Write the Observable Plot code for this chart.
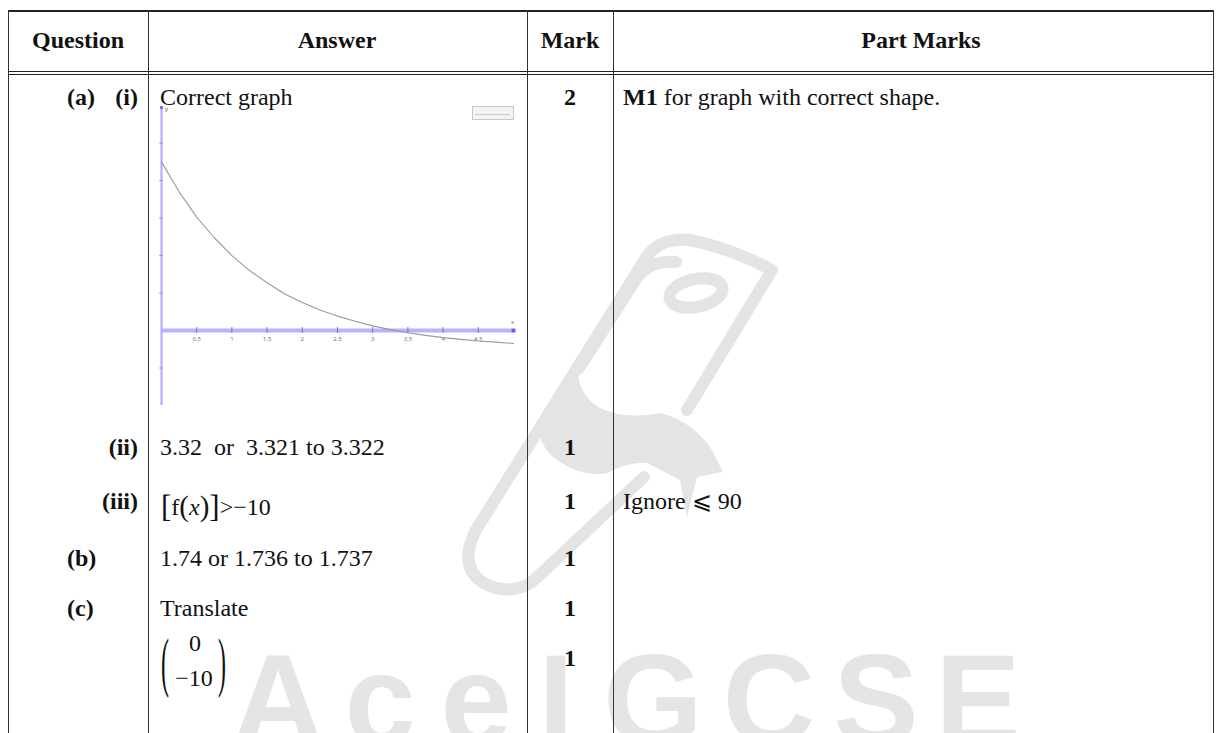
<!DOCTYPE html>
<html>
<head>
<meta charset="utf-8">
<script src="https://cdn.jsdelivr.net/npm/d3@7"></script>
<script src="https://cdn.jsdelivr.net/npm/@observablehq/plot@0.6"></script>
<style>
  html, body { margin:0; padding:0; background:#fff; }
  #page { position:relative; width:1219px; height:733px; overflow:hidden; font-family:"Liberation Serif","Times New Roman",serif; color:#111; }
  .t { position:absolute; font-size:24px; white-space:pre; line-height:1; }
  .b { font-weight:bold; }
  .c { transform:translateX(-50%); }
  .r { transform:translateX(-100%); }
  .hl { position:absolute; background:#222; height:1px; }
  .vl { position:absolute; background:#333; width:1px; }
  #wm { position:absolute; left:0; top:0; }
  #chart { position:absolute; left:150px; top:100px; }
</style>
</head>
<body>
<div id="page">
  <svg id="wm" width="1219" height="733">
    <g fill="none" stroke="#e4e4e4" stroke-width="12" stroke-linejoin="round" stroke-linecap="round">
      <path d="M476,530 L647,256 Q662,237 690,240 Q730,248 772,270 L687,410"/>
      <path d="M476,530 Q458,565 482,582 Q508,597 532,582 L576,541 L644,477"/>
      <path d="M579,368 L638,276 Q652,260 676,262"/>
      <ellipse cx="696" cy="293" rx="27" ry="14" transform="rotate(-12 696 293)"/>
    </g>
    <path fill="#e4e4e4" d="M577,367 Q578,395 600,408 Q625,420 660,413 Q690,420 710,447 L723,472 L697,477 L687,517 L680,480 L647,463 Q630,461 607,473 Q580,478 553,457 Q540,445 540,432 Z"/>
    <g fill="#e5e5e5" font-family="Liberation Sans, Arial, sans-serif" font-weight="bold" font-size="128" text-anchor="middle">
      <text x="278" y="744">A</text>
      <text x="380" y="744">c</text>
      <text x="476" y="744">e</text>
      <text x="556" y="744">I</text>
      <text x="653" y="744">G</text>
      <text x="769" y="744">C</text>
      <text x="876" y="744">S</text>
      <text x="978" y="744">E</text>
    </g>
  </svg>

  <!-- table lines -->
  <div class="hl" style="left:8px; top:10px; width:1206px; height:2px;"></div>
  <div class="hl" style="left:8px; top:71px; width:1206px;"></div>
  <div class="hl" style="left:8px; top:74px; width:1206px;"></div>
  <div class="vl" style="left:8px; top:10px; height:723px;"></div>
  <div class="vl" style="left:148px; top:10px; height:723px;"></div>
  <div class="vl" style="left:527px; top:10px; height:723px;"></div>
  <div class="vl" style="left:613px; top:10px; height:723px;"></div>
  <div class="vl" style="left:1213px; top:10px; height:723px;"></div>

  <div id="texts"></div>
  <div id="chart"></div>
  <div style="position:absolute; left:472px; top:106px; width:40px; height:12px; border:1px solid #c8c8c8; background:#f4f4f4;">
    <div style="position:absolute; left:2px; top:7px; width:35px; height:1px; background:#c8c8c8;"></div>
  </div>
</div>

<script>
// ---- table content ----
const headers = ["Question", "Answer", "Mark", "Part Marks"];
const questionLabels = ["(a)", "(i)", "(ii)", "(iii)", "(b)", "(c)"];
const answers = ["Correct graph", "3.32  or  3.321 to 3.322", "1.74 or 1.736 to 1.737", "Translate"];
const marks = ["2", "1", "1", "1", "1", "1"];
const partMarks = ["for graph with correct shape.", "Ignore \u2A7D 90"];

// ---- graph data ----
const curveX = [0, 0.25, 0.5, 0.75, 1, 1.25, 1.5, 1.75, 2, 2.25, 2.5, 2.75, 3, 3.25, 3.5, 3.75, 4, 4.25, 4.5, 4.75, 5];
const curveY = [90, 74, 60.5, 49.5, 40, 32, 25.5, 19.5, 15, 11, 7.7, 5, 2.5, 0.5, -1.2, -2.6, -3.8, -4.7, -5.6, -6.2, -6.9];
const xTicks = [0.5, 1, 1.5, 2, 2.5, 3, 3.5, 4, 4.5];
const xTickLabels = ["0.5", "1", "1.5", "2", "2.5", "3", "3.5", "4", "4.5"];
const yTicks = [-20, 20, 40, 60, 80, 100];

const T = document.getElementById("texts");
function put(html, x, y, cls) {
  const s = document.createElement("span");
  s.className = "t " + (cls || "");
  s.style.left = x + "px";
  s.style.top = (y - 12) + "px";
  s.innerHTML = html;
  T.appendChild(s);
  return s;
}
// header
put(headers[0], 78, 40, "b c");
put(headers[1], 337, 40, "b c");
put(headers[2], 570, 40, "b c");
put(headers[3], 921, 40, "b c");
// question labels
put(questionLabels[0], 67, 97, "b");
put(questionLabels[1], 138, 97, "b r");
put(questionLabels[2], 138, 447, "b r");
put(questionLabels[3], 138, 501, "b r");
put(questionLabels[4], 67, 558, "b");
put(questionLabels[5], 67, 608, "b");
// answers
put(answers[0], 160, 97);
put(answers[1], 160, 447);
put('<span style="font-size:31px;position:relative;top:2px">[</span>f<span style="font-size:29px;position:relative;top:1px">(</span><i>x</i><span style="font-size:29px;position:relative;top:1px">)</span><span style="font-size:31px;position:relative;top:2px">]</span>&gt;\u221210', 161, 501);
put(answers[2], 160, 558);
put(answers[3], 160, 608);
// matrix
put('<span style="display:inline-block;transform:scale(1,2.7);">(</span>', 161, 662);
put('<span style="display:inline-block;transform:scale(1,2.7);">)</span>', 218, 662);
put("0", 195, 643, "c");
put("\u221210", 194, 678, "c");
// marks
put(marks[0], 570, 97, "b c");
put(marks[1], 570, 447, "b c");
put(marks[2], 570, 501, "b c");
put(marks[3], 570, 558, "b c");
put(marks[4], 570, 608, "b c");
put(marks[5], 570, 658, "b c");
// part marks
put('<b>M1</b> ' + partMarks[0], 623, 97);
put(partMarks[1], 623, 501);

// ---- the small graph ----
const pts = curveX.map((x, i) => ({x, y: curveY[i]}));
const chart = Plot.plot({
  width: 370,
  height: 310,
  marginLeft: 11,
  marginRight: 7,
  marginTop: 7,
  marginBottom: 5,
  x: {domain: [0, 5], axis: null},
  y: {domain: [-40, 119], axis: null},
  style: {background: "transparent", overflow: "visible"},
  marks: [
    Plot.ruleY([0], {stroke: "#b4b4ff", strokeWidth: 4}),
    Plot.ruleX([0], {y1: -40, y2: 119, stroke: "#aaaaff", strokeWidth: 2}),
    Plot.ruleX(xTicks, {y1: -1.6, y2: 1.6, stroke: "#6f6fe8", strokeWidth: 1}),
    Plot.ruleY(yTicks, {x1: -0.025, x2: 0.025, stroke: "#8f8fff", strokeWidth: 1}),
    Plot.text(xTicks, {x: d => d, y: 0, dy: 9, text: (d, i) => xTickLabels[i], fontSize: 6, fill: "#777"}),
    Plot.line(pts, {x: "x", y: "y", stroke: "#9a9a9a", strokeWidth: 1.1}),
    Plot.dot([{x: 5, y: 0}], {x: "x", y: "y", symbol: "square", r: 2.2, fill: "#5a5aff", stroke: "none"}),
    Plot.dot([{x: 0, y: 119}], {x: "x", y: "y", symbol: "square", r: 1.5, fill: "#5a5aff", stroke: "none"}),
    Plot.text([{x: 0, y: 119, t: "y"}], {x: "x", y: "y", text: "t", dx: 5, dy: 2, fontSize: 6, fill: "#666"}),
    Plot.text([{x: 5, y: 0, t: "x"}], {x: "x", y: "y", text: "t", dx: -1, dy: -8, fontSize: 6, fill: "#666"})
  ]
});
document.getElementById("chart").appendChild(chart);
</script>
</body>
</html>
